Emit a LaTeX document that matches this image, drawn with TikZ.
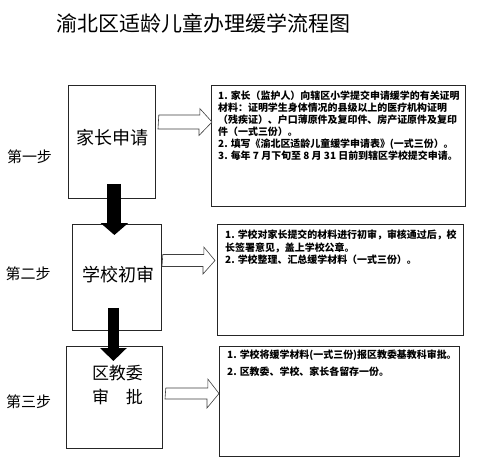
\documentclass[tikz,border=0pt]{standalone}
\usepackage{fontspec}
\newfontfamily\cjk{Noto Sans CJK SC}
\usetikzlibrary{calc,arrows.meta}
\begin{document}
\begin{tikzpicture}[x=1pt,y=-1pt,
  box/.style={draw=black!85, line width=0.8pt, anchor=north west, inner sep=0pt},
  hollow/.style={draw=black!75, line width=0.6pt, fill=white},
  bigarrow/.style={line width=#1, black},
  boxlabel/.style={font=\cjk\fontsize{18}{20}\selectfont, inner sep=0pt},
  steplabel/.style={font=\cjk\fontsize{15}{17}\selectfont, inner sep=0pt},
  note/.style={font=\cjk\bfseries\fontsize{9.95}{12}\selectfont, align=left, anchor=north west, inner sep=0pt}]
\useasboundingbox[fill=white] (0,0) rectangle (480,467);

% title
\node[font=\cjk\fontsize{21}{24}\selectfont, inner sep=0pt] (title) at (203.5,23) {渝北区适龄儿童办理缓学流程图};

% left boxes
\node[box, minimum width=87pt, minimum height=113pt] (b1) at (68,85) {};
\node[box, minimum width=89pt, minimum height=106pt] (b2) at (72,224) {};
\node[box, minimum width=96pt, minimum height=102pt] (b3) at (66,346) {};

% right boxes
\node[box, minimum width=254pt, minimum height=121pt] (r1) at (211,85) {};
\node[box, minimum width=246pt, minimum height=111pt] (r2) at (217,224) {};
\node[box, minimum width=240pt, minimum height=110pt] (r3) at (219,346) {};

% box labels
\node[boxlabel] (l1) at (112,138) {家长申请};
\node[boxlabel] (l2) at (118,275) {学校初审};
\node[boxlabel, font=\cjk\fontsize{17}{19}\selectfont] (l3a) at (117.5,373) {区教委};
\node[boxlabel, font=\cjk\fontsize{17}{19}\selectfont] (l3b) at (117.5,397) {审\quad 批};

% step labels
\node[steplabel] (s1) at (29.5,157) {第一步};
\node[steplabel] (s2) at (28,274) {第二步};
\node[steplabel] (s3) at (28.5,402) {第三步};

% notes
\node[note] (n1) at ($(r1.north west)+(7,5.5)$) {1. 家长（监护人）向辖区小学提交申请缓学的有关证明\\
材料：证明学生身体情况的县级以上的医疗机构证明\\
（残疾证）、户口薄原件及复印件、房产证原件及复印\\
件（一式三份）。\\
2. 填写《渝北区适龄儿童缓学申请表》(一式三份）。\\
3. 每年 7 月下旬至 8 月 31 日前到辖区学校提交申请。};
\node[note, font=\cjk\bfseries\fontsize{9.95}{12.8}\selectfont] (n2) at ($(r2.north west)+(8,5.5)$) {1. 学校对家长提交的材料进行初审，审核通过后，校\\
长签署意见，盖上学校公章。\\
2. 学校整理、汇总缓学材料（一式三份）。};
\node[note, font=\cjk\bfseries\fontsize{9.95}{17.5}\selectfont] (n3) at ($(r3.north west)+(8,3.5)$) {1. 学校将缓学材料(一式三份)报区教委基教科审批。\\
2. 区教委、学校、家长各留存一份。};

% hollow arrows
\draw[hollow] ($(b1.north east)+(3,30)$) -- ++(41,0) -- ++(0,-6.5)
  -- ($(r1.north west)+(1,37)$) -- ++(-13,13.5) -- ++(0,-6.5) -- ++(-41,0) -- cycle;
\draw[hollow] ($(b2.north east)+(1,30.5)$) -- ++(41,0) -- ++(0,-7.5)
  -- ($(r2.north west)+(-2,36.5)$) -- ++(-12,13.5) -- ++(0,-7.5) -- ++(-41,0) -- cycle;
\draw[hollow] ($(b3.north east)+(3,42)$) -- ++(42,0) -- ++(0,-9)
  -- ($(r3.north west)+(0,47.5)$) -- ++(-12,14.5) -- ++(0,-9) -- ++(-42,0) -- cycle;

% black arrows
\draw[bigarrow=14pt, -{Triangle[width=27pt,length=12pt]}] ($(b1.south)+(2.5,-15)$) -- ($(b2.north)+(-2.5,11)$);
\draw[bigarrow=11.5pt, -{Triangle[width=26pt,length=13pt]}] ($(b2.south)+(-3.5,-23)$) -- ($(b3.north)+(-1,15)$);
\end{tikzpicture}
\end{document}
